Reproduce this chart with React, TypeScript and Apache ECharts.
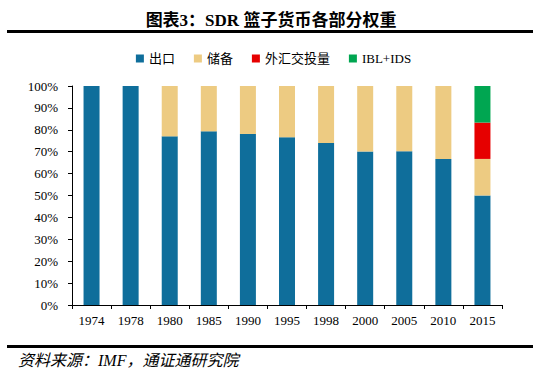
import React, { useEffect, useRef } from "react";
import * as echarts from "echarts";

const categories = ["1974", "1978", "1980", "1985", "1990", "1995", "1998", "2000", "2005", "2010", "2015"];
const exportsShare = [100, 100, 77, 79.3, 78.1, 76.6, 74, 70.1, 70.2, 66.7, 50];
const reservesShare = [0, 0, 23, 20.7, 21.9, 23.4, 26, 29.9, 29.8, 33.3, 16.7];
const fxShare = [0, 0, 0, 0, 0, 0, 0, 0, 0, 0, 16.6];
const iblShare = [0, 0, 0, 0, 0, 0, 0, 0, 0, 0, 16.7];
const yTicks = [0, 10, 20, 30, 40, 50, 60, 70, 80, 90, 100];

const seriesNames = ["出口", "储备", "外汇交投量", "IBL+IDS"];
const colors = ["#0F6E9B", "#EDCB82", "#E60000", "#00A651"];

const FONT = "'Liberation Serif', 'Times New Roman', 'Noto Sans CJK SC', serif";

export default function App() {
  const ref = useRef<HTMLDivElement>(null);
  useEffect(() => {
    if (!ref.current) return;
    const chart = echarts.init(ref.current, undefined, { renderer: "svg" });
    const data = [exportsShare, reservesShare, fxShare, iblShare];
    chart.setOption({
      animation: false,
      backgroundColor: "#ffffff",
      textStyle: { fontFamily: FONT },
      legend: {
        top: 47,
        left: "center",
        itemWidth: 8,
        itemHeight: 8,
        itemGap: 19,
        icon: "rect",
        textStyle: { fontFamily: FONT, fontSize: 13, color: "#000" },
        data: seriesNames,
      },
      grid: { left: 72, right: 45, top: 86, bottom: 79 },
      xAxis: {
        type: "category",
        data: categories,
        axisLine: { lineStyle: { color: "#000", width: 1 } },
        axisTick: { show: true, length: 4, lineStyle: { color: "#000" } },
        axisLabel: { color: "#000", fontSize: 13, fontFamily: FONT, margin: 9 },
      },
      yAxis: {
        type: "value",
        min: yTicks[0],
        max: yTicks[yTicks.length - 1],
        interval: 10,
        axisLine: { show: true, lineStyle: { color: "#000", width: 1 } },
        axisTick: { show: true, length: 4, lineStyle: { color: "#000" } },
        splitLine: { show: false },
        axisLabel: { color: "#000", fontSize: 13, fontFamily: FONT, margin: 14, formatter: "{value}%" },
      },
      series: seriesNames.map((name, i) => ({
        name,
        type: "bar",
        stack: "total",
        barWidth: 16,
        itemStyle: { color: colors[i] },
        data: data[i],
      })),
      graphic: [
        {
          type: "text",
          x: 271,
          y: 20,
          style: {
            text: "图表3：SDR 篮子货币各部分权重",
            fontFamily: FONT,
            fontSize: 17,
            fontWeight: "bold",
            fill: "#000",
            align: "center",
            verticalAlign: "middle",
          },
        },
        { type: "rect", shape: { x: 7, y: 30, width: 526, height: 3 }, style: { fill: "#000" } },
        { type: "rect", shape: { x: 7, y: 345, width: 526, height: 3 }, style: { fill: "#000" } },
        {
          type: "text",
          x: 18,
          y: 360,
          style: {
            text: "资料来源：IMF，通证通研究院",
            fontFamily: FONT,
            fontSize: 16,
            fontStyle: "italic",
            fill: "#000",
            align: "left",
            verticalAlign: "middle",
          },
        },
      ],
    });
    return () => chart.dispose();
  }, []);
  return <div ref={ref} style={{ width: 547, height: 384, position: "absolute", left: 0, top: 0 }} />;
}
